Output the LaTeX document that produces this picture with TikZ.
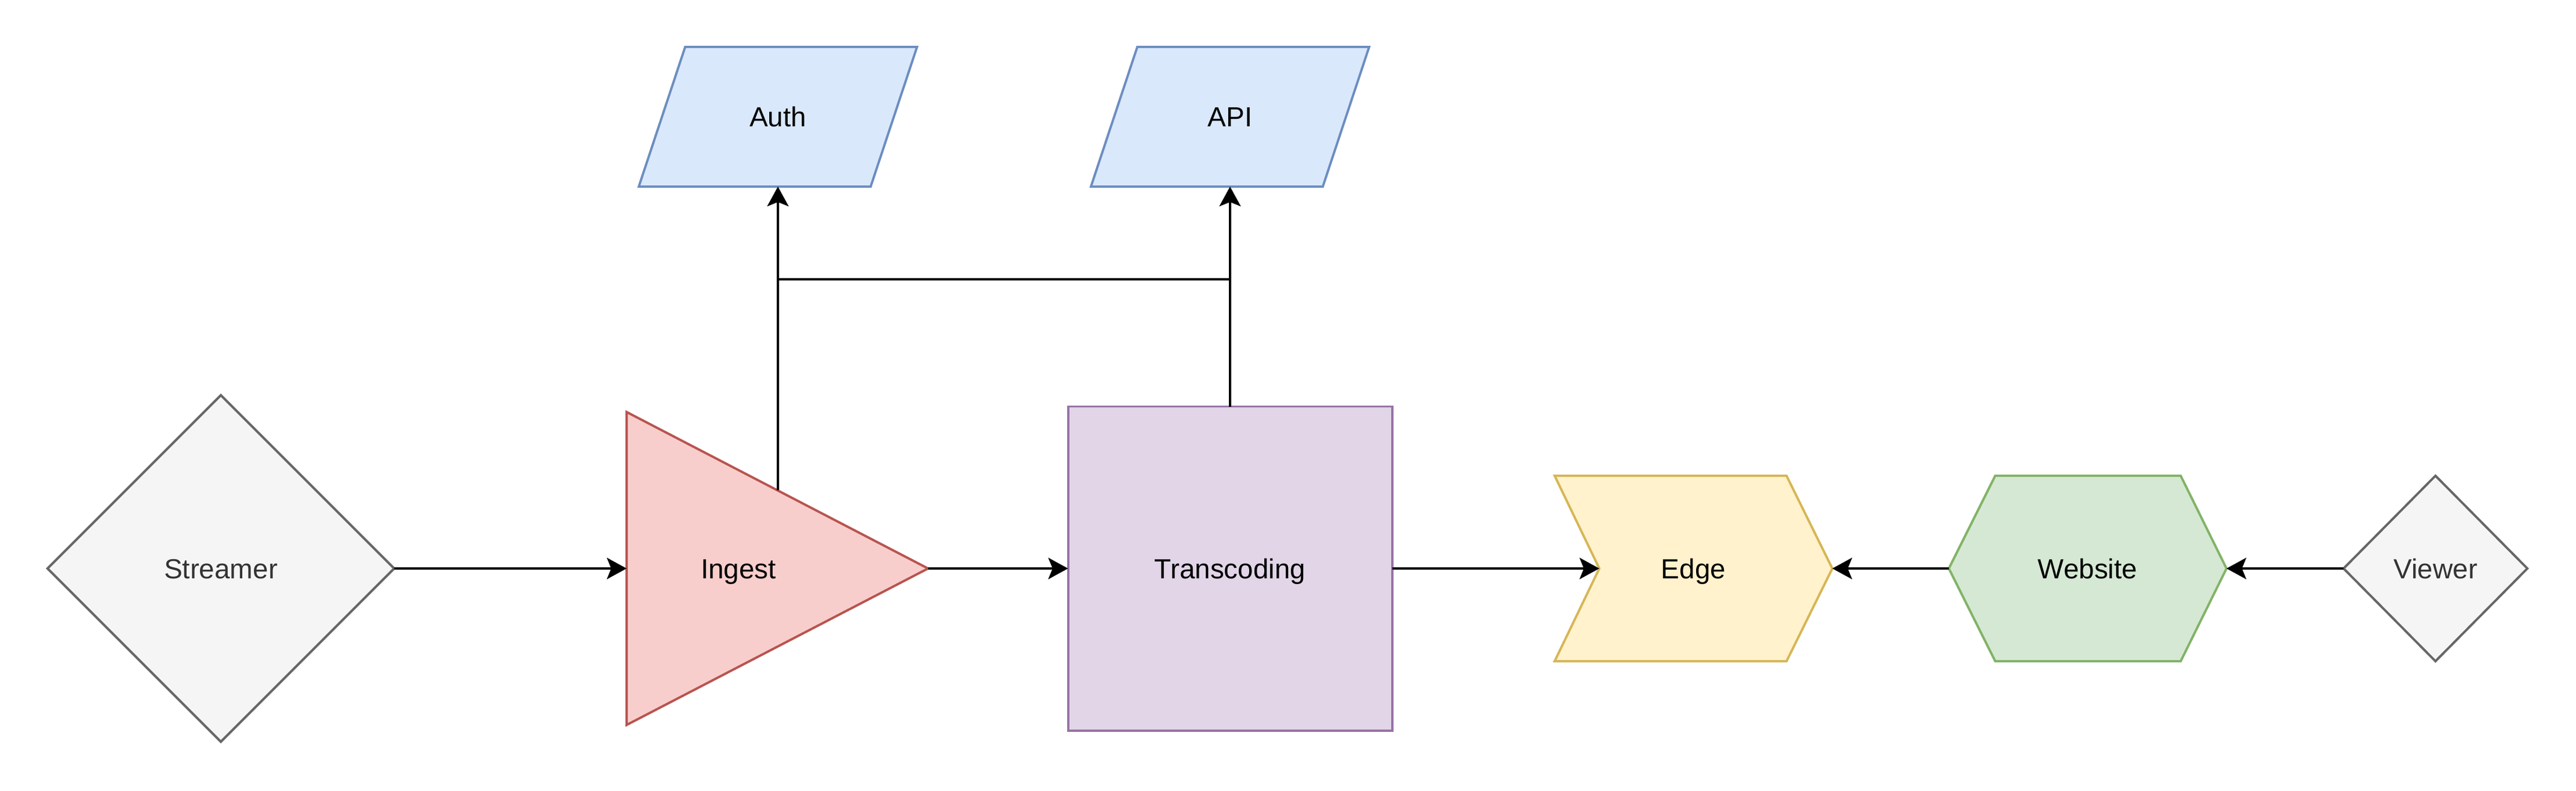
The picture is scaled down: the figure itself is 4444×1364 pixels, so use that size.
\documentclass[tikz,border=0pt]{standalone}
\usepackage{fontspec}
\setmainfont{Liberation Sans}
\usetikzlibrary{arrows.meta,shapes.geometric}
\definecolor{grayfill}{HTML}{F5F5F5}
\definecolor{graystroke}{HTML}{666666}
\definecolor{graytext}{HTML}{333333}
\definecolor{redfill}{HTML}{F8CECC}
\definecolor{redstroke}{HTML}{B85450}
\definecolor{bluefill}{HTML}{DAE8FC}
\definecolor{bluestroke}{HTML}{6C8EBF}
\definecolor{purplefill}{HTML}{E1D5E7}
\definecolor{purplestroke}{HTML}{9673A6}
\definecolor{yellowfill}{HTML}{FFF2CC}
\definecolor{yellowstroke}{HTML}{D6B656}
\definecolor{greenfill}{HTML}{D5E8D4}
\definecolor{greenstroke}{HTML}{82B366}
\tikzset{
  every node/.style={font=\fontsize{16.8}{20}\selectfont, inner sep=0pt, outer sep=0pt, text height=12pt, text depth=0pt},
  shapeline/.style={line width=1.4pt, line join=miter},
  grayshape/.style={shapeline, draw=graystroke, fill=grayfill, text=graytext},
  redshape/.style={shapeline, draw=redstroke, fill=redfill},
  blueshape/.style={shapeline, draw=bluestroke, fill=bluefill},
  purpleshape/.style={shapeline, draw=purplestroke, fill=purplefill},
  yellowshape/.style={shapeline, draw=yellowstroke, fill=yellowfill},
  greenshape/.style={shapeline, draw=greenstroke, fill=greenfill},
  boxnode/.style={draw=none, fill=none, rectangle},
  conn/.style={line width=1.4pt, -{Stealth[length=12pt, width=13pt, inset=2.6pt]}},
  plainline/.style={line width=1.4pt}
}
\begin{document}
\begin{tikzpicture}[x=0.35283pt, y=-0.35283pt]
\useasboundingbox (0,0) rectangle (4444,1364);

% ---- shapes drawn directly ----
% Ingest triangle
\draw[redshape] (1081,711) -- (1601,981) -- (1081,1251) -- cycle;
% Auth parallelogram
\draw[blueshape] (1182,81) -- (1582,81) -- (1502,322) -- (1102,322) -- cycle;
% API parallelogram
\draw[blueshape] (1962,81) -- (2362,81) -- (2282,322) -- (1882,322) -- cycle;
% Edge chevron
\draw[yellowshape] (2682,821) -- (3082,821) -- (3161,981) -- (3082,1141) -- (2682,1141) -- (2759,981) -- cycle;
% Website hexagon
\draw[greenshape] (3362,981) -- (3442,821) -- (3762,821) -- (3841,981) -- (3762,1141) -- (3442,1141) -- cycle;

% ---- nodes ----
\node[diamond, grayshape, minimum width=598*0.35283pt, minimum height=598*0.35283pt] (Streamer) at (381,981) {Streamer};
\node[boxnode, minimum width=520*0.35283pt, minimum height=540*0.35283pt] (Ingest) at (1341,981) {};
\node (IngestLabel) at (1274,981) {Ingest};
\node[rectangle, purpleshape, minimum width=559*0.35283pt, minimum height=559*0.35283pt] (Transcoding) at (2122,981) {Transcoding};
\node[boxnode, minimum width=480*0.35283pt, minimum height=241*0.35283pt] (Auth) at (1342,201.5) {Auth};
\node[boxnode, minimum width=480*0.35283pt, minimum height=241*0.35283pt] (API) at (2122,201.5) {API};
\node[boxnode, minimum width=479*0.35283pt, minimum height=320*0.35283pt] (Edge) at (2921.5,981) {Edge};
\node[boxnode, minimum width=479*0.35283pt, minimum height=320*0.35283pt] (Website) at (3601.5,981) {Website};
\node[diamond, grayshape, minimum width=317*0.35283pt, minimum height=320*0.35283pt] (Viewer) at (4201.5,981) {Viewer};

% ---- connection points ----
\coordinate (EdgeNotch) at (2759,981);
\coordinate (IngestUp) at (1342,846);
\coordinate (BusL) at (1342,482);
\coordinate (BusR) at (2122,482);

% ---- connectors ----
\draw[conn] (Streamer.east) -- (Ingest.west);
\draw[conn] (Ingest.east) -- (Transcoding.west);
\draw[conn] (Transcoding.east) -- (EdgeNotch);
\draw[conn] (Website.west) -- (Edge.east);
\draw[conn] (Viewer.west) -- (Website.east);
\draw[conn] (IngestUp) -- (Auth.south);
\draw[conn] (Transcoding.north) -- (API.south);
\draw[plainline] (BusL) -- (BusR);
\end{tikzpicture}
\end{document}
